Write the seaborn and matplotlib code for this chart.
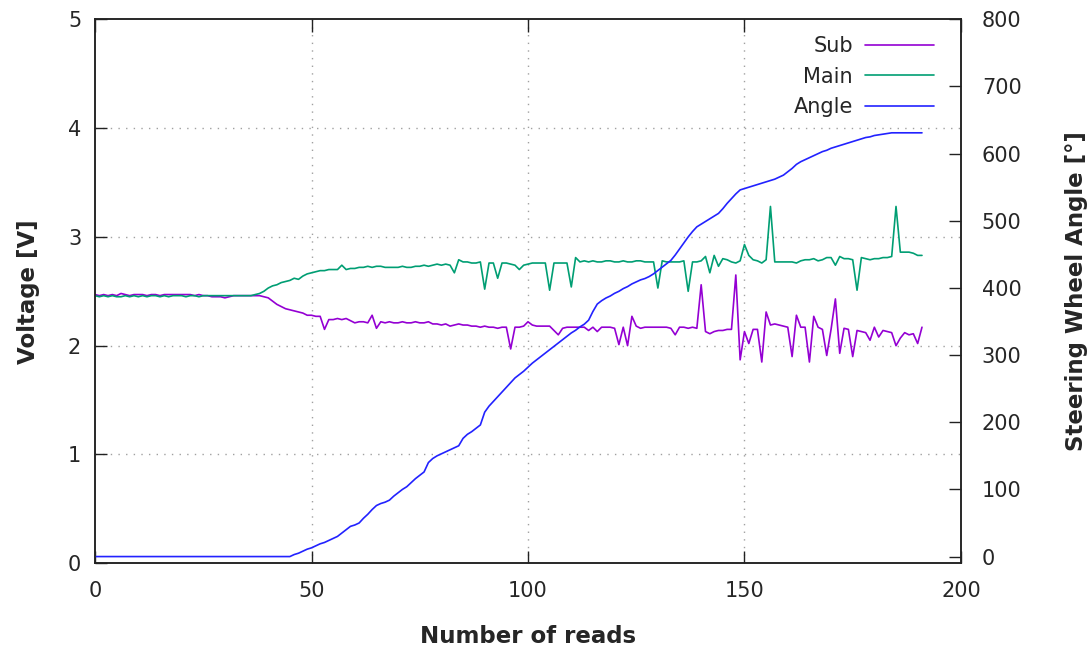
import matplotlib
matplotlib.use("Agg")
import matplotlib.pyplot as plt
import numpy as np
import seaborn as sns

# values, one per read (index 0..191)
sub_v = [
    2.47, 2.46, 2.47, 2.46, 2.47, 2.46, 2.48, 2.47, 2.46, 2.47,
    2.47, 2.47, 2.46, 2.47, 2.47, 2.46, 2.47, 2.47, 2.47, 2.47,
    2.47, 2.47, 2.47, 2.46, 2.47, 2.46, 2.46, 2.45, 2.45, 2.45,
    2.44, 2.45, 2.46, 2.46, 2.46, 2.46, 2.46, 2.46, 2.46, 2.45,
    2.44, 2.41, 2.38, 2.36, 2.34, 2.33, 2.32, 2.31, 2.30, 2.28,
    2.28, 2.27, 2.27, 2.15, 2.24, 2.24, 2.25, 2.24, 2.25, 2.23,
    2.21, 2.22, 2.22, 2.21, 2.28, 2.16, 2.22, 2.21, 2.22, 2.21,
    2.21, 2.22, 2.21, 2.21, 2.22, 2.21, 2.21, 2.22, 2.20, 2.20,
    2.19, 2.20, 2.18, 2.19, 2.20, 2.19, 2.19, 2.18, 2.18, 2.17,
    2.18, 2.17, 2.17, 2.16, 2.17, 2.17, 1.97, 2.17, 2.17, 2.18,
    2.22, 2.19, 2.18, 2.18, 2.18, 2.18, 2.14, 2.10, 2.16, 2.17,
    2.17, 2.17, 2.17, 2.17, 2.14, 2.17, 2.13, 2.17, 2.17, 2.17,
    2.16, 2.01, 2.17, 2.00, 2.27, 2.18, 2.16, 2.17, 2.17, 2.17,
    2.17, 2.17, 2.17, 2.16, 2.10, 2.17, 2.17, 2.16, 2.17, 2.16,
    2.56, 2.13, 2.11, 2.13, 2.14, 2.14, 2.15, 2.15, 2.65, 1.87,
    2.13, 2.02, 2.15, 2.15, 1.85, 2.31, 2.19, 2.20, 2.19, 2.18,
    2.17, 1.90, 2.28, 2.17, 2.17, 1.85, 2.27, 2.17, 2.15, 1.91,
    2.15, 2.43, 1.93, 2.16, 2.15, 1.90, 2.14, 2.13, 2.12, 2.05,
    2.17, 2.08, 2.14, 2.13, 2.12, 2.00, 2.07, 2.12, 2.10, 2.11,
    2.02, 2.17,
]

main_v = [
    2.46, 2.45, 2.46, 2.45, 2.46, 2.45, 2.45, 2.46, 2.45, 2.46,
    2.45, 2.46, 2.45, 2.46, 2.46, 2.45, 2.46, 2.45, 2.46, 2.46,
    2.46, 2.45, 2.46, 2.46, 2.45, 2.46, 2.46, 2.46, 2.46, 2.46,
    2.46, 2.46, 2.46, 2.46, 2.46, 2.46, 2.46, 2.47, 2.48, 2.50,
    2.53, 2.55, 2.56, 2.58, 2.59, 2.60, 2.62, 2.61, 2.64, 2.66,
    2.67, 2.68, 2.69, 2.69, 2.70, 2.70, 2.70, 2.74, 2.70, 2.71,
    2.71, 2.72, 2.72, 2.73, 2.72, 2.73, 2.73, 2.72, 2.72, 2.72,
    2.72, 2.73, 2.72, 2.72, 2.73, 2.73, 2.74, 2.73, 2.74, 2.75,
    2.74, 2.75, 2.74, 2.67, 2.79, 2.77, 2.77, 2.76, 2.76, 2.77,
    2.52, 2.76, 2.76, 2.62, 2.76, 2.76, 2.75, 2.74, 2.70, 2.74,
    2.75, 2.76, 2.76, 2.76, 2.76, 2.51, 2.76, 2.76, 2.76, 2.76,
    2.54, 2.81, 2.77, 2.78, 2.77, 2.78, 2.77, 2.77, 2.78, 2.78,
    2.77, 2.77, 2.78, 2.77, 2.77, 2.78, 2.78, 2.77, 2.77, 2.77,
    2.53, 2.78, 2.77, 2.77, 2.77, 2.77, 2.78, 2.50, 2.77, 2.77,
    2.78, 2.82, 2.67, 2.83, 2.73, 2.80, 2.79, 2.77, 2.76, 2.78,
    2.93, 2.83, 2.79, 2.78, 2.76, 2.79, 3.28, 2.77, 2.77, 2.77,
    2.77, 2.77, 2.76, 2.78, 2.79, 2.79, 2.80, 2.78, 2.79, 2.81,
    2.81, 2.74, 2.82, 2.80, 2.80, 2.79, 2.51, 2.81, 2.80, 2.79,
    2.80, 2.80, 2.81, 2.81, 2.82, 3.28, 2.86, 2.86, 2.86, 2.85,
    2.83, 2.83,
]

angle_deg = [0] * 46 + [
    3, 5, 8, 11,
    13, 16, 19, 21, 24, 27, 30, 35, 40, 45,
    47, 50, 57, 63, 70, 76, 79, 81, 84, 90,
    95, 100, 104, 110, 116, 121, 126, 140, 146, 150,
    153, 156, 159, 162, 165, 176, 182, 186, 191, 196,
    215, 224, 231, 238, 245, 252, 259, 266, 271, 276,
    282, 288, 293, 298, 303, 308, 313, 318, 323, 328,
    333, 337, 342, 346, 352, 365, 376, 381, 385, 388,
    392, 395, 399, 402, 406, 409, 412, 414, 417, 421,
    426, 431, 436, 441, 449, 458, 467, 476, 484, 491,
    495, 499, 503, 507, 511, 518, 526, 533, 540, 546,
    548, 550, 552, 554, 556, 558, 560, 562, 565, 568,
    573, 578, 584, 588, 591, 594, 597, 600, 603, 605,
    608, 610, 612, 614, 616, 618, 620, 622, 624, 625,
    627, 628, 629, 630, 631, 631, 631, 631, 631, 631,
    631, 631,
]

x_ticks = [0, 50, 100, 150, 200]
v_ticks = [0, 1, 2, 3, 4, 5]
a_ticks = [0, 100, 200, 300, 400, 500, 600, 700, 800]

COLOR_SUB = "#9400d3"
COLOR_MAIN = "#009e73"
COLOR_ANGLE = "#2222ff"
TEXT = "#262626"

sns.set_style("white")
plt.rcParams["font.family"] = ["DejaVu Sans"]

fig = plt.figure(figsize=(10.91, 6.53), dpi=100)
ax = fig.add_axes([0.0871, 0.1374, 0.7937, 0.8330])
ax2 = ax.twinx()

sns.lineplot(x=np.arange(len(sub_v)), y=sub_v, ax=ax, color=COLOR_SUB,
             linewidth=1.2, label="Sub", legend=False)
sns.lineplot(x=np.arange(len(main_v)), y=main_v, ax=ax, color=COLOR_MAIN,
             linewidth=1.2, label="Main", legend=False)
sns.lineplot(x=np.arange(len(angle_deg)), y=angle_deg, ax=ax2, color=COLOR_ANGLE,
             linewidth=1.2, label="Angle", legend=False)

ax.set_xlim(0, 200)
ax.set_ylim(0, 5)
ax2.set_ylim(-10, 800)
ax.set_xticks(x_ticks)
ax.set_yticks(v_ticks)
ax2.set_yticks(a_ticks)

# dotted grid only on the inner ticks
for xv in x_ticks[1:-1]:
    ax.axvline(xv, color="#a0a0a0", linewidth=1.0, linestyle=(0, (1, 4.5)), zorder=0)
for yv in v_ticks[1:-1]:
    ax.axhline(yv, color="#a0a0a0", linewidth=1.0, linestyle=(0, (1, 4.5)), zorder=0)

for a in (ax, ax2):
    for sp in a.spines.values():
        sp.set_color("#222222")
        sp.set_linewidth(1.1)
        sp.set_visible(True)

ax.tick_params(axis="x", which="both", direction="in", length=9, width=1.0,
               top=True, bottom=True, labelsize=15, labelcolor=TEXT, pad=13,
               color="#222222")
ax.tick_params(axis="y", direction="in", length=8.5, width=1.0, left=True,
               right=False, labelsize=15, labelcolor=TEXT, pad=10, color="#222222")
ax2.tick_params(axis="y", direction="in", length=9, width=1.0, right=True,
                left=False, labelsize=15, labelcolor=TEXT, pad=15, color="#222222")

ax.set_xlabel("Number of reads", fontsize=16.5, fontweight="bold", color=TEXT)
ax.set_ylabel("Voltage [V]", fontsize=16.5, fontweight="bold", color=TEXT)
ax2.set_ylabel("Steering Wheel Angle [°]", fontsize=16.5, fontweight="bold", color=TEXT)
ax.xaxis.set_label_coords(0.5, -0.113)
ax.yaxis.set_label_coords(-0.064, 0.5)
ax2.yaxis.set_label_coords(1.120, 0.5)

handles = ax.get_lines()[:2] + ax2.get_lines()[:1]
ax2.legend(handles, ["Sub", "Main", "Angle"], loc="upper right",
           bbox_to_anchor=(0.969, 0.969), frameon=False, markerfirst=False,
           fontsize=15, handlelength=3.3, handletextpad=0.6, labelspacing=0.5,
           borderaxespad=0, borderpad=0, labelcolor=TEXT)

fig.savefig("out.png", dpi=100)
